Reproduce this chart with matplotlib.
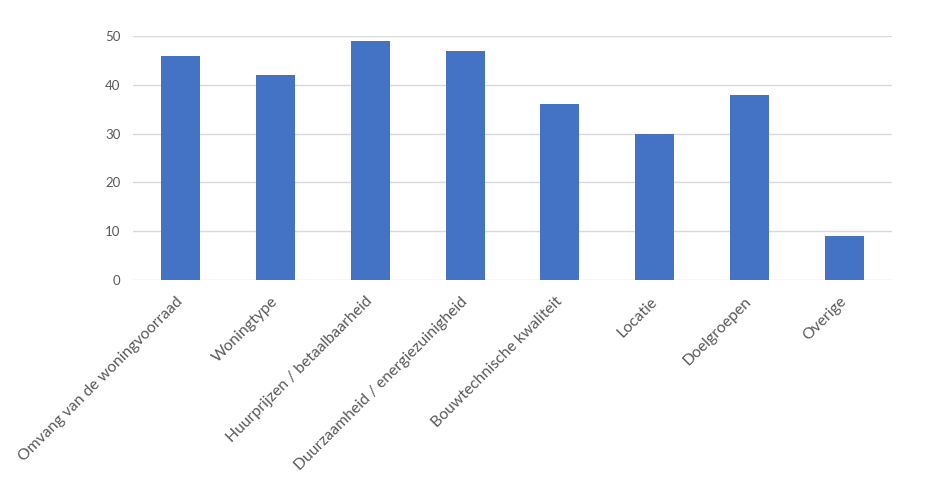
import matplotlib
matplotlib.use("Agg")
import matplotlib.pyplot as plt

categories = [
    "Omvang van de woningvoorraad",
    "Woningtype",
    "Huurprijzen / betaalbaarheid",
    "Duurzaamheid / energiezuinigheid",
    "Bouwtechnische kwaliteit",
    "Locatie",
    "Doelgroepen",
    "Overige",
]
values = [46, 42, 49, 47, 36, 30, 38, 9]
y_ticks = [0, 10, 20, 30, 40, 50]

BAR_COLOR = "#4472c4"
TEXT_COLOR = "#595959"
GRID_COLOR = "#d9d9d9"

plt.rcParams["font.family"] = ["Lato", "DejaVu Sans"]

fig = plt.figure(figsize=(9.34, 4.95), dpi=100)
# plot area in pixels: x 133..892, y 36..280 (from top)
ax = fig.add_axes([133 / 934, 1 - 280 / 495, (892 - 133) / 934, (280 - 36) / 495])

x = range(len(categories))
ax.bar(x, values, width=0.41, color=BAR_COLOR, zorder=3)

ax.set_xlim(-0.5, len(categories) - 0.5)
ax.set_ylim(0, 50)
ax.set_yticks(y_ticks)
ax.set_xticks(list(x))
ax.set_xticklabels(categories, rotation=45, ha="right", va="center",
                   rotation_mode="anchor", fontsize=11.3, color=TEXT_COLOR)
ax.tick_params(axis="y", length=0, pad=9, labelsize=9.5, labelcolor=TEXT_COLOR)
ax.tick_params(axis="x", length=0, pad=14)

ax.yaxis.grid(True, color=GRID_COLOR, linewidth=1)
ax.set_axisbelow(True)
for s in ax.spines.values():
    s.set_visible(False)

fig.savefig("out.png", dpi=100)
